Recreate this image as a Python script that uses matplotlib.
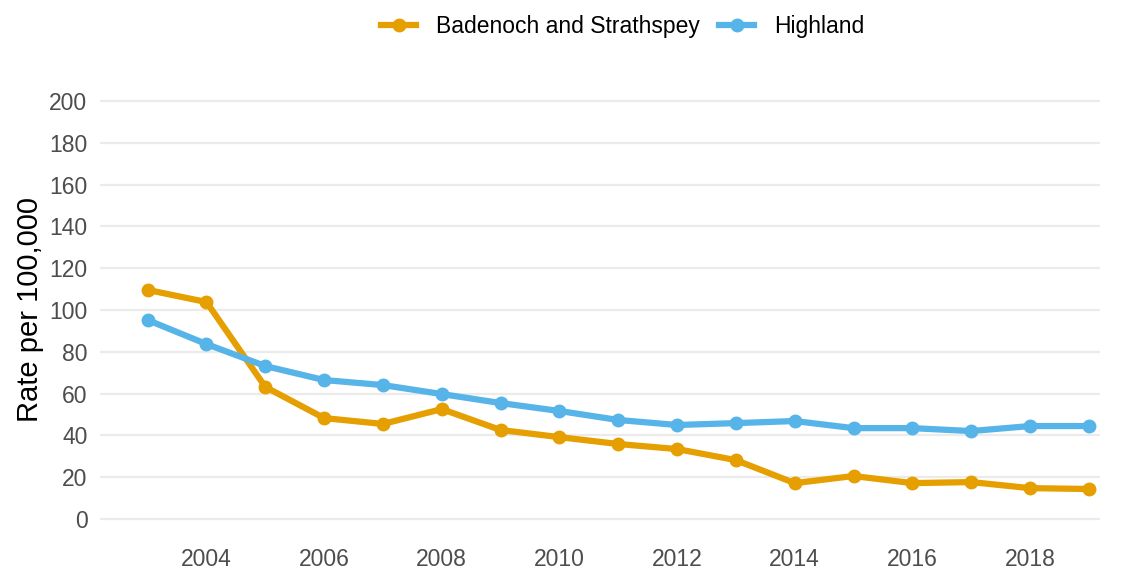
import matplotlib
matplotlib.use("Agg")
from matplotlib import pyplot as plt

plt.rcParams["font.family"] = ["Liberation Sans", "DejaVu Sans"]

years = list(range(2003, 2020))
badenoch = [109.6, 103.8, 63.2, 48.3, 45.5, 52.6, 42.6, 39.2, 35.9, 33.5,
            28.2, 17.2, 20.6, 17.2, 17.7, 14.8, 14.4]
highland = [95.2, 83.7, 73.2, 66.5, 64.1, 59.8, 55.5, 51.7, 47.4, 45.0,
            45.9, 46.9, 43.5, 43.5, 42.1, 44.5, 44.5]
labels = ["Badenoch and Strathspey", "Highland"]
colors = ["#E69F00", "#56B4E9"]

fig = plt.figure(figsize=(11.22, 5.71), dpi=100)
ax = fig.add_axes([100 / 1122, 1 - 540 / 571, 1000 / 1122, 460 / 571])

for vals, lab, col in zip([badenoch, highland], labels, colors):
    ax.plot(years, vals, color=col, lw=4.5, marker="o", ms=9,
            label=lab, solid_joinstyle="round")

ax.set_ylim(-10, 210)
ax.set_xlim(2002.19, 2019.19)
ax.set_yticks(range(0, 201, 20))
ax.set_xticks(range(2004, 2019, 2))
ax.grid(axis="y", color="#EBEBEB", lw=1.6)
ax.set_axisbelow(True)
for s in ax.spines.values():
    s.set_visible(False)
ax.tick_params(length=0, labelsize=16.5, labelcolor="#4D4D4D")
ax.tick_params(axis="y", pad=9)
ax.tick_params(axis="x", pad=6)
ax.set_ylabel("Rate per 100,000", fontsize=21, color="black", labelpad=4)

fig.legend(loc="center", bbox_to_anchor=(0.555, 1 - 27 / 571), ncol=2,
           frameon=False, fontsize=16.5, handlelength=1.5, columnspacing=0.87,
           handletextpad=0.87)

fig.savefig("out.png", dpi=100)
